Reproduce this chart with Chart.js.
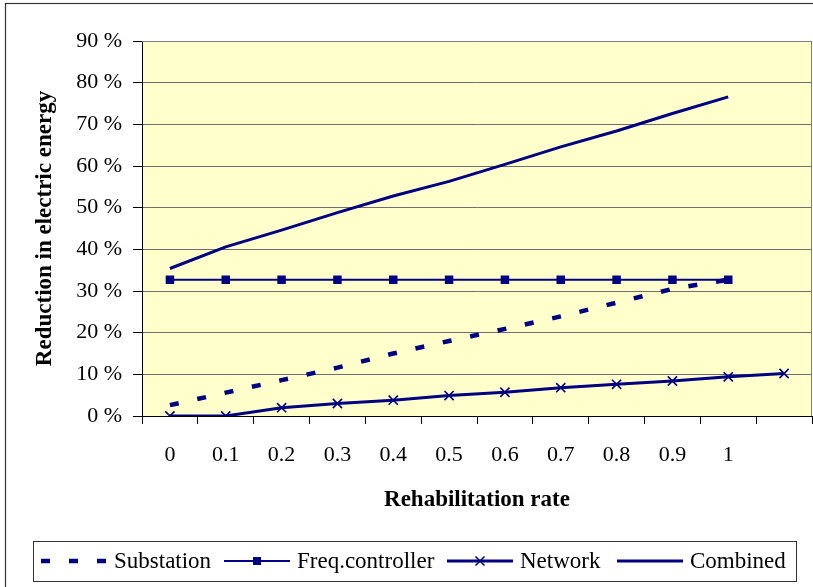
<!DOCTYPE html>
<html>
<head>
<meta charset="utf-8">
<title>Reduction in electric energy</title>
<script src="https://cdn.jsdelivr.net/npm/chart.js@4.4.1/dist/chart.umd.min.js"></script>
<style>
  html, body { margin: 0; padding: 0; background: #fff; }
  canvas { display: block; }
</style>
</head>
<body>
<canvas id="chart" width="813" height="587"></canvas>
<script>
// data (percent)
const categories = ["0", "0.1", "0.2", "0.3", "0.4", "0.5", "0.6", "0.7", "0.8", "0.9", "1", ""];
const substation = [2.6, 5.6, 8.6, 11.6, 15.0, 18.0, 20.9, 23.9, 27.2, 30.5, 32.7, null];
const freqController = [32.7, 32.7, 32.7, 32.7, 32.7, 32.7, 32.7, 32.7, 32.7, 32.7, 32.7, null];
const network = [0, 0, 2.0, 3.0, 3.8, 4.9, 5.7, 6.8, 7.6, 8.4, 9.4, 10.2];
const combined = [35.4, 40.6, 44.6, 48.8, 52.8, 56.3, 60.4, 64.6, 68.4, 72.6, 76.6, null];
const yTicks = [0, 10, 20, 30, 40, 50, 60, 70, 80, 90];

const navy = "#000080";
const serif = "'Liberation Serif', 'Times New Roman', serif";

// fond jaune du cadre + bordure extérieure
const backgroundPlugin = {
    id: "plotBackground",
    beforeDraw(chart) {
        const { ctx, chartArea: a } = chart;
        ctx.save();
        ctx.fillStyle = "#fff";
        ctx.fillRect(0, 0, chart.width, chart.height);
        ctx.strokeStyle = "#333";
        ctx.lineWidth = 1.2;
        ctx.strokeRect(5.5, 3.5, chart.width + 20, chart.height + 20);
        ctx.fillStyle = "#FFFFCC";
        ctx.fillRect(a.left, a.top, a.right - a.left, a.bottom - a.top);
        ctx.restore();
    },
    beforeDatasetsDraw(chart) {
        const { ctx, chartArea: a } = chart;
        ctx.save();
        ctx.strokeStyle = "#808080";
        ctx.lineWidth = 1;
        ctx.beginPath();
        ctx.moveTo(a.left, a.top + 0.5);
        ctx.lineTo(a.right - 0.5, a.top + 0.5);
        ctx.lineTo(a.right - 0.5, a.bottom);
        ctx.stroke();
        ctx.restore();
    }
};

// légende dessinée à la main (ligne + marqueur comme dans l'original)
const legendItems = [
    { text: "Substation", x: 41, dash: [9, 19], width: 4.5, marker: null },
    { text: "Freq.controller", x: 224, dash: [], width: 2, marker: "rect" },
    { text: "Network", x: 447, dash: [], width: 3, marker: "cross" },
    { text: "Combined", x: 617, dash: [], width: 3, marker: null }
];

const legendPlugin = {
    id: "boxLegend",
    afterDraw(chart) {
        const ctx = chart.ctx;
        const top = 541, bottom = 581, left = 33, right = 796;
        const y = 561;
        ctx.save();
        ctx.fillStyle = "#fff";
        ctx.fillRect(left, top, right - left, bottom - top);
        ctx.strokeStyle = "#333";
        ctx.lineWidth = 1;
        ctx.strokeRect(left + 0.5, top + 0.5, right - left, bottom - top);

        legendItems.forEach(item => {
            const x0 = item.x, x1 = item.x + 66;
            ctx.strokeStyle = navy;
            ctx.lineWidth = item.width;
            ctx.setLineDash(item.dash);
            ctx.beginPath();
            ctx.moveTo(x0, y);
            ctx.lineTo(x1, y);
            ctx.stroke();
            ctx.setLineDash([]);
            const mx = (x0 + x1) / 2;
            if (item.marker === "rect") {
                ctx.fillStyle = navy;
                ctx.fillRect(mx - 4, y - 4, 8, 8);
            } else if (item.marker === "cross") {
                ctx.lineWidth = 1.5;
                ctx.beginPath();
                ctx.moveTo(mx - 4.5, y - 4.5); ctx.lineTo(mx + 4.5, y + 4.5);
                ctx.moveTo(mx - 4.5, y + 4.5); ctx.lineTo(mx + 4.5, y - 4.5);
                ctx.stroke();
            }
            ctx.fillStyle = "#000";
            ctx.font = "23px " + serif;
            ctx.textBaseline = "middle";
            ctx.textAlign = "left";
            ctx.fillText(item.text, x1 + 7, y + 1);
        });
        ctx.restore();
    }
};

const config = {
    type: "line",
    data: {
        labels: categories,
        datasets: [
            {
                label: "Substation",
                data: substation,
                borderColor: navy,
                borderWidth: 4.5,
                borderDash: [9, 19],
                pointRadius: 0,
                fill: false,
            },
            {
                label: "Freq.controller",
                data: freqController,
                borderColor: navy,
                backgroundColor: navy,
                borderWidth: 2,
                pointStyle: "rect",
                pointRadius: 6,
                pointBorderWidth: 0,
                fill: false,
            },
            {
                label: "Network",
                data: network,
                borderColor: navy,
                borderWidth: 3,
                pointStyle: "crossRot",
                pointRadius: 6.5,
                pointBorderWidth: 1.6,
                pointBorderColor: navy,
                fill: false,
            },
            {
                label: "Combined",
                data: combined,
                borderColor: navy,
                borderWidth: 3,
                pointRadius: 0,
                fill: false,
            },
        ],
    },
    options: {
        responsive: false,
        animation: false,
        events: [],
        layout: { autoPadding: false, padding: { left: 6, top: 41, right: 1, bottom: 71 } },
        scales: {
            x: {
                type: "category",
                offset: true,
                grid: {
                    offset: true,
                    drawOnChartArea: false,
                    drawTicks: true,
                    tickLength: 8,
                    tickColor: "#000",
                },
                border: { color: "#000", width: 1 },
                ticks: {
                    color: "#000",
                    padding: 18,
                    maxRotation: 0,
                    autoSkip: false,
                    font: { family: serif, size: 22 },
                },
                title: {
                    display: true,
                    text: "Rehabilitation rate",
                    color: "#000",
                    padding: { top: 0, bottom: 2 },
                    font: { family: serif, size: 23, weight: "bold" },
                },
                afterFit(scale) {
                    scale.height = 100;
                },
            },
            y: {
                min: 0,
                max: 90,
                afterBuildTicks(scale) {
                    scale.ticks = yTicks.map(v => ({ value: v }));
                },
                grid: {
                    color: "#6f6f6f",
                    lineWidth: 1,
                    drawTicks: true,
                    tickLength: 9,
                    tickColor: "#000",
                },
                border: { color: "#000", width: 1 },
                ticks: {
                    color: "#000",
                    padding: 11,
                    font: { family: serif, size: 22 },
                    callback: v => v + " %",
                },
                title: {
                    display: true,
                    text: "Reduction in electric energy",
                    color: "#000",
                    padding: { top: 25, bottom: 0 },
                    font: { family: serif, size: 23, weight: "bold" },
                },
                afterFit(scale) { scale.width = 136; },
            },
        },
        plugins: {
            legend: { display: false },
            tooltip: { enabled: false },
        },
    },
    plugins: [backgroundPlugin, legendPlugin],
};

const chart = new Chart(document.getElementById("chart"), config);
</script>
</body>
</html>
